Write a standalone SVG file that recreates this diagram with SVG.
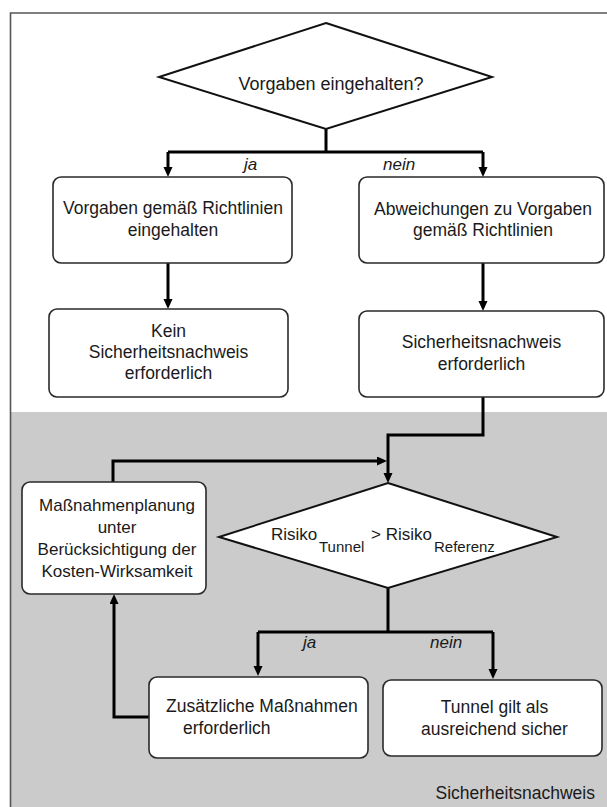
<svg xmlns="http://www.w3.org/2000/svg" width="607" height="807" viewBox="0 0 607 807">
  <style>
    text { font-family: "Liberation Sans", Arial, sans-serif; fill: #1a1a1a; }
    .t { font-size: 17.5px; text-anchor: middle; }
    .ts { font-size: 17px; }
    .sub { font-size: 15px; }
    .lbl { font-size: 17px; font-style: italic; }
    .box { fill: #ffffff; stroke: #2a2a2a; stroke-width: 1.6; }
    .dia { fill: #ffffff; stroke: #111111; stroke-width: 2; }
    .wire { fill: none; stroke: #000000; stroke-width: 3; stroke-linejoin: miter; }
  </style>
  <defs>
    <marker id="arrow" markerUnits="userSpaceOnUse" markerWidth="11" markerHeight="10" refX="0" refY="4.5" orient="auto">
      <path d="M0,0 L10,4.5 L0,9 z" fill="#000000"/>
    </marker>
  </defs>

  <!-- background and frame -->
  <rect x="0" y="0" width="607" height="807" fill="#ffffff"/>
  <rect x="11" y="412" width="600" height="400" fill="#cbcbcb"/>
  <path d="M10.5,812 L10.5,13 L612,13" fill="none" stroke="#555555" stroke-width="1.6"/>
  <text x="595" y="799" class="ts" text-anchor="end" style="font-size:17.5px">Sicherheitsnachweis</text>

  <!-- connectors -->
  <g id="connectors">
    <path class="wire" d="M326,129 L326,152 M168,152 L483,152"/>
    <path class="wire" d="M168,152 L168,167" marker-end="url(#arrow)"/>
    <path class="wire" d="M483,152 L483,167" marker-end="url(#arrow)"/>
    <path class="wire" d="M168,263 L168,299" marker-end="url(#arrow)"/>
    <path class="wire" d="M483,263 L483,301" marker-end="url(#arrow)"/>
    <path class="wire" d="M483,397 L483,435 L388,435 L388,473" marker-end="url(#arrow)"/>
    <path class="wire" d="M113,482 L113,461 L377,461" marker-end="url(#arrow)"/>
    <path class="wire" d="M388,588 L388,632 M258,632 L493,632"/>
    <path class="wire" d="M258,632 L258,666" marker-end="url(#arrow)"/>
    <path class="wire" d="M493,632 L493,669" marker-end="url(#arrow)"/>
    <path class="wire" d="M149,717 L114,717 L114,604" marker-end="url(#arrow)"/>
    <text x="244" y="170" class="lbl">ja</text>
    <text x="383" y="170" class="lbl">nein</text>
    <text x="303" y="648" class="lbl">ja</text>
    <text x="430" y="648" class="lbl">nein</text>
  </g>

  <g id="decision-vorgaben">
    <polygon class="dia" points="326,23 492,77 326,129 159,77"/>
    <text x="331" y="90" class="t" style="font-size:18px">Vorgaben eingehalten?</text>
  </g>

  <g id="vorgaben-eingehalten">
    <rect class="box" x="53" y="177" width="239" height="86" rx="8"/>
    <text class="t"><tspan x="173" y="214">Vorgaben gemäß Richtlinien</tspan><tspan x="173" y="236">eingehalten</tspan></text>
  </g>

  <g id="abweichungen">
    <rect class="box" x="359" y="177" width="245" height="86" rx="8"/>
    <text class="t"><tspan x="483" y="215">Abweichungen zu Vorgaben</tspan><tspan x="483" y="236">gemäß Richtlinien</tspan></text>
  </g>

  <g id="kein-nachweis">
    <rect class="box" x="49" y="309" width="239" height="88" rx="8"/>
    <text class="t"><tspan x="168.5" y="337">Kein</tspan><tspan x="168.5" y="358">Sicherheitsnachweis</tspan><tspan x="168.5" y="379">erforderlich</tspan></text>
  </g>

  <g id="nachweis-erforderlich">
    <rect class="box" x="359" y="311" width="245" height="86" rx="8"/>
    <text class="t"><tspan x="481.5" y="348">Sicherheitsnachweis</tspan><tspan x="481.5" y="370">erforderlich</tspan></text>
  </g>

  <g id="massnahmenplanung">
    <rect class="box" x="22" y="482" width="184" height="112" rx="8"/>
    <text class="t" style="font-size:17px"><tspan x="117" y="511">Maßnahmenplanung</tspan><tspan x="117" y="533">unter</tspan><tspan x="117" y="555">Berücksichtigung der</tspan><tspan x="117" y="577">Kosten-Wirksamkeit</tspan></text>
  </g>

  <g id="decision-risiko">
    <polygon class="dia" points="388,483 557,537 388,588 219,537"/>
    <text class="ts"><tspan x="271" y="540">Risiko</tspan><tspan x="319" y="552" class="sub">Tunnel</tspan><tspan x="371" y="540">&gt; Risiko</tspan><tspan x="434" y="552" class="sub">Referenz</tspan></text>
  </g>

  <g id="zusaetzliche-massnahmen">
    <rect class="box" x="149" y="677" width="219" height="81" rx="8"/>
    <text class="ts" style="font-size:17.5px"><tspan x="166" y="712">Zusätzliche Maßnahmen</tspan><tspan x="183" y="734">erforderlich</tspan></text>
  </g>

  <g id="ausreichend-sicher">
    <rect class="box" x="383" y="680" width="219" height="76" rx="8"/>
    <text class="t"><tspan x="494.5" y="713">Tunnel gilt als</tspan><tspan x="494.5" y="735">ausreichend sicher</tspan></text>
  </g>
</svg>
